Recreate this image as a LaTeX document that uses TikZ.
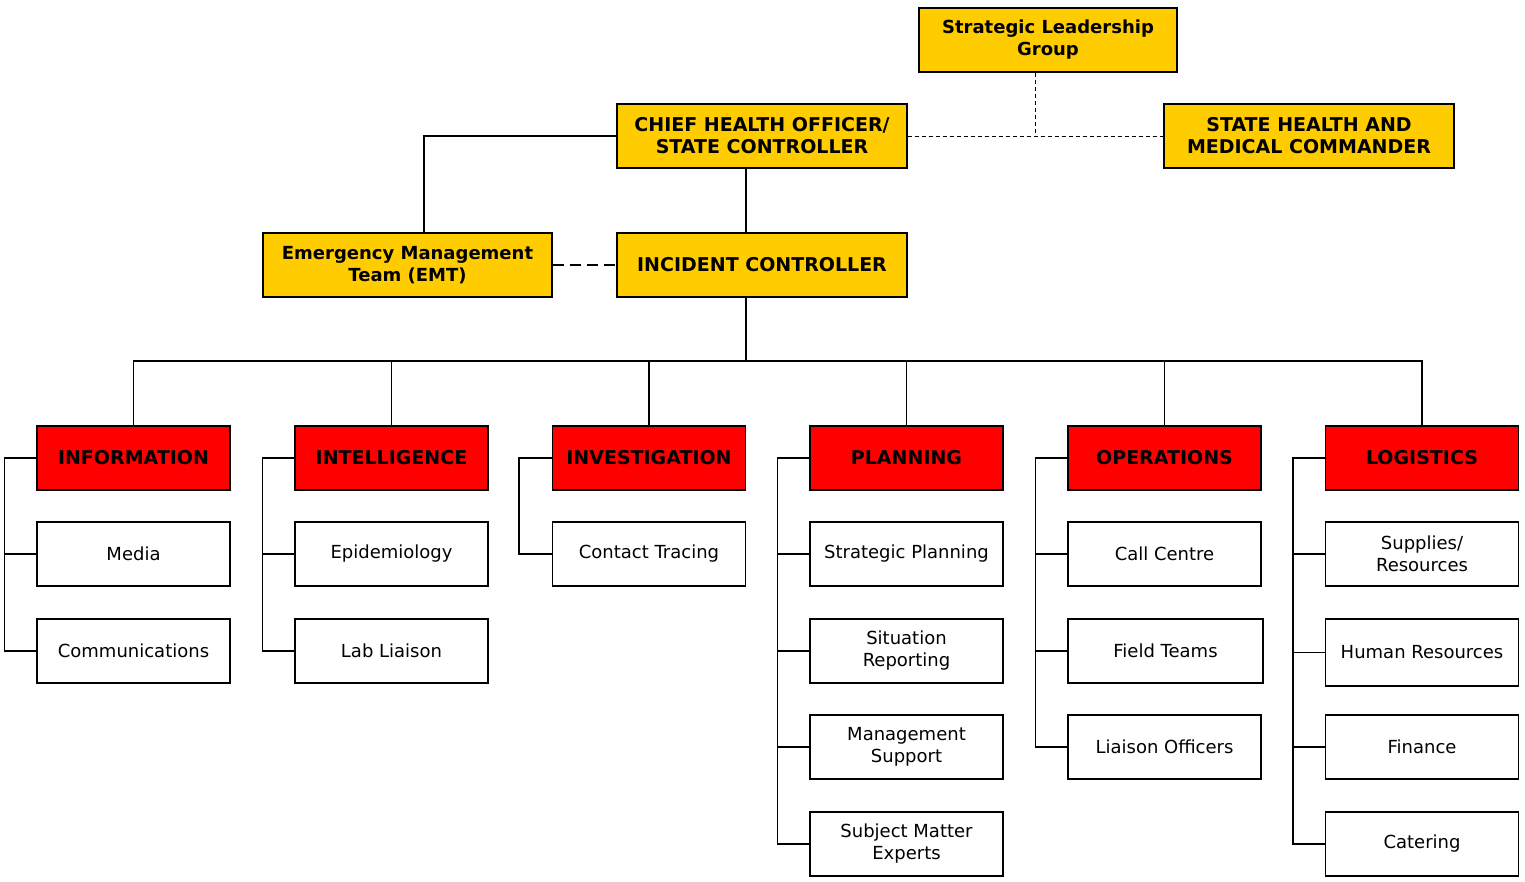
\documentclass[tikz,border=0pt]{standalone}
\usepackage{fontspec}
\setmainfont{DejaVu Sans}
\usepackage{tikz}

\definecolor{leadyellow}{HTML}{FFCC00}
\definecolor{headred}{HTML}{FF0000}

\tikzset{
  box/.style={draw, line width=1.2pt, minimum width=193pt, minimum height=64pt,
    inner sep=2pt, align=center, font=\fontsize{18}{22}\selectfont},
  lead/.style={box, fill=leadyellow, minimum width=290pt, font=\fontsize{18}{22}\selectfont\bfseries},
  caps/.style={font=\fontsize{19}{22}\selectfont\bfseries},
  head/.style={box, fill=headred, caps},
  link/.style={line width=1.2pt},
}

\begin{document}
\begin{tikzpicture}[x=1pt, y=-1pt]
    \useasboundingbox (0,0) rectangle (1525,882);

    % Vertici
    \node[lead, minimum width=258pt] (slg) at (1048,40) {Strategic Leadership\\Group};
    \node[lead, caps] (cho) at (762,136) {CHIEF HEALTH OFFICER/\\STATE CONTROLLER};
    \node[lead, caps] (shmc) at (1309,136) {STATE HEALTH AND\\MEDICAL COMMANDER};
    \node[lead, minimum width=289pt] (emt) at (407.5,265) {Emergency Management\\Team (EMT)};
    \node[lead, caps] (ic) at (762,265) {INCIDENT CONTROLLER};

    \coordinate (bus) at (746,361);
    \coordinate (slgjoin) at (1035,136);

    \draw[link] (cho.south -| bus) -- (ic.north -| bus);
    \draw[link] (cho.west) -| ([xshift=16.5pt]emt.north);
    \draw[link, dash pattern=on 11pt off 6pt] (emt) -- (ic);
    \draw[line width=0.9pt, dash pattern=on 4pt off 3pt] (cho) -- (shmc);
    \draw[line width=0.9pt, dash pattern=on 4pt off 3pt] (slg.south -| slgjoin) -- (slgjoin);
    \draw[link] (ic.south -| bus) -- (bus);

    % Settori
    \node[head] (info) at (133.5,458) {INFORMATION};
    \node[head] (intel) at (391.5,458) {INTELLIGENCE};
    \node[head] (invest) at (649,458) {INVESTIGATION};
    \node[head] (plan) at (906.5,458) {PLANNING};
    \node[head] (oper) at (1164.5,458) {OPERATIONS};
    \node[head] (logi) at (1422,458) {LOGISTICS};

    \foreach \h in {info,intel,invest,plan,oper,logi}
        \draw[link] (\h.north) |- (bus);

    % Unita'
    \node[box] (media) at (133.5,554) {Media};
    \node[box] (comm) at (133.5,651) {Communications};

    \node[box] (epi) at (391.5,554) {Epidemiology};
    \node[box] (lab) at (391.5,651) {Lab Liaison};

    \node[box] (trace) at (649,554) {Contact Tracing};

    \node[box] (strat) at (906.5,554) {Strategic Planning};
    \node[box] (sitrep) at (906.5,651) {Situation\\Reporting};
    \node[box] (msupp) at (906.5,747) {Management\\Support};
    \node[box] (sme) at (906.5,844) {Subject Matter\\Experts};

    \node[box] (call) at (1164.5,554) {Call Centre};
    \node[box, minimum width=195pt] (field) at (1165.5,651) {Field Teams};
    \node[box] (liaison) at (1164.5,747) {Liaison Officers};

    \node[box] (supp) at (1422,554) {Supplies/\\Resources};
    \node[box, minimum height=67pt] (hr) at (1422,652.5) {Human Resources};
    \node[box] (fin) at (1422,747) {Finance};
    \node[box] (cater) at (1422,844) {Catering};

    % Collegamenti laterali
    \foreach \c in {media,comm}
        \draw[link] (info.west) -- ++(-32,0) |- (\c.west);
    \foreach \c in {epi,lab}
        \draw[link] (intel.west) -- ++(-32,0) |- (\c.west);
    \draw[link] (invest.west) -- ++(-33,0) |- (trace.west);
    \foreach \c in {strat,sitrep,msupp,sme}
        \draw[link] (plan.west) -- ++(-32,0) |- (\c.west);
    \foreach \c in {call,field,liaison}
        \draw[link] (oper.west) -- ++(-32,0) |- (\c.west);
    \foreach \c in {supp,hr,fin,cater}
        \draw[link] (logi.west) -- ++(-32,0) |- (\c.west);
\end{tikzpicture}
\end{document}
